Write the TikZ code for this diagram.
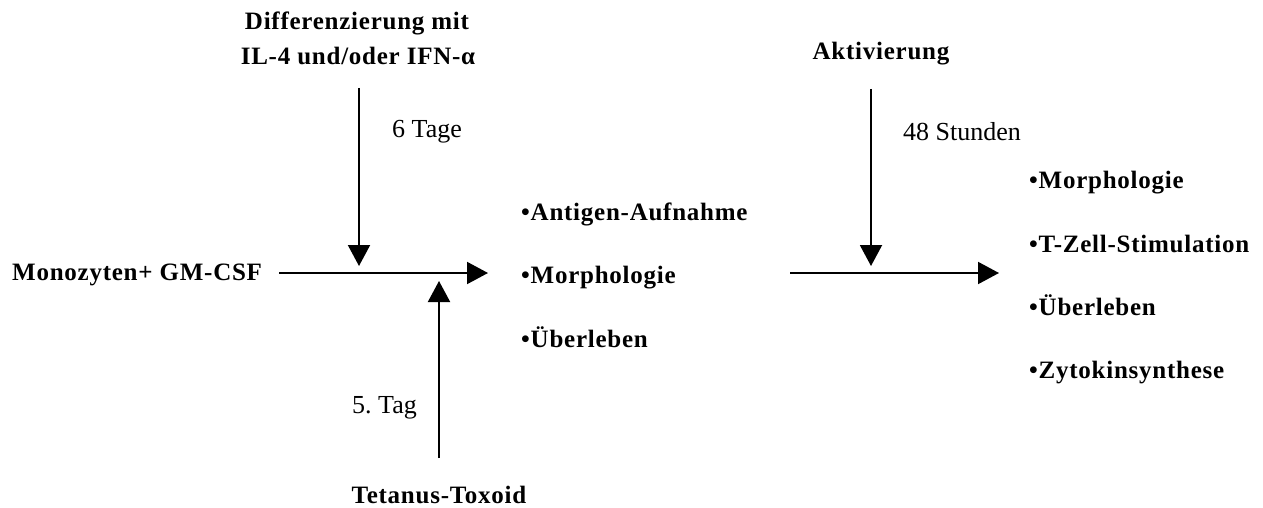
\documentclass[tikz,border=0pt]{standalone}
\usepackage{fontspec}
\setmainfont{Liberation Serif}
\newfontfamily\boldsp[LetterSpace=3]{Liberation Serif}
\usetikzlibrary{arrows.meta}
\frenchspacing
\tikzset{
  lbl/.style={inner sep=0pt, font=\boldsp\bfseries\fontsize{25}{29}\selectfont},
  reg/.style={inner sep=0pt, font=\fontsize{26}{30}\selectfont},
  flow/.style={line width=2pt, -{Triangle[length=21pt,width=22pt]}},
}
\begin{document}
\begin{tikzpicture}[x=1pt,y=-1pt]
\useasboundingbox (0,0) rectangle (1263,508);
% labels
\node[lbl, anchor=base west] (mono) at (12,280) {Monozyten+ GM-CSF};
\node[lbl, anchor=base] (diff1) at (357,30) {Differenzierung mit};
\node[lbl, anchor=base] (diff2) at (358,65) {IL-4 und/oder IFN-α};
\node[lbl, anchor=base] (akt) at (881,60) {Aktivierung};
\node[lbl, anchor=base] (tet) at (439,503) {Tetanus-Toxoid};
\node[reg, anchor=base west] (t6) at (392,138) {6 Tage};
\node[reg, anchor=base west] (t48) at (903,140) {48 Stunden};
\node[reg, anchor=base west] (t5) at (352,413) {5.\ Tag};
% left list
\node[lbl, anchor=base west] (l1) at (521,220) {•Antigen-Aufnahme};
\node[lbl, anchor=base west] (l2) at (521,283) {•Morphologie};
\node[lbl, anchor=base west] (l3) at (521,347) {•Überleben};
% right list
\node[lbl, anchor=base west] (r1) at (1029,188) {•Morphologie};
\node[lbl, anchor=base west] (r2) at (1029,252) {•T-Zell-Stimulation};
\node[lbl, anchor=base west] (r3) at (1029,315) {•Überleben};
\node[lbl, anchor=base west] (r4) at (1029,378) {•Zytokinsynthese};
% arrow coordinates
\coordinate (m1s) at (279,273);
\coordinate (m1e) at (488,273);
\coordinate (m2s) at (790,273);
\coordinate (m2e) at (999,273);
\coordinate (d1s) at (359,88);
\coordinate (d1e) at (359,266);
\coordinate (d2s) at (871,89);
\coordinate (d2e) at (871,266);
\coordinate (u1s) at (439,458);
\coordinate (u1e) at (439,281);
% arrows
\draw[flow] (m1s) -- (m1e);
\draw[flow] (m2s) -- (m2e);
\draw[flow] (d1s) -- (d1e);
\draw[flow] (d2s) -- (d2e);
\draw[flow] (u1s) -- (u1e);
\end{tikzpicture}
\end{document}
